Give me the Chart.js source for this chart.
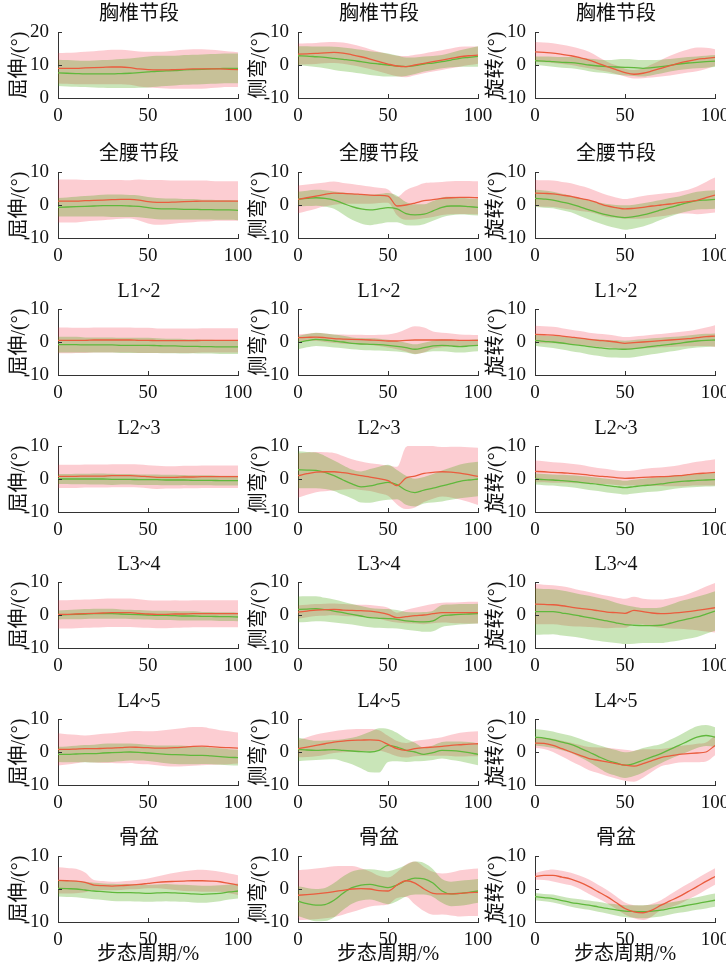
<!DOCTYPE html>
<html>
<head>
<meta charset="utf-8">
<script src="https://cdn.jsdelivr.net/npm/chart.js@4.4.1/dist/chart.umd.min.js"></script>
<style>
  html, body { margin: 0; padding: 0; background: #fff; }
  body { width: 726px; height: 966px; position: relative; overflow: hidden; }
  canvas { position: absolute; }
</style>
</head>
<body>
<script>
// 步态周期 (%) 采样点
const gaitPct = [0, 5, 10, 15, 20, 25, 30, 35, 40, 45, 50, 55, 60, 65, 70, 75, 80, 85, 90, 95, 100];

const rowTitles = ['胸椎节段', '全腰节段', 'L1~2', 'L2~3', 'L3~4', 'L4~5', '骨盆'];
const yLabels = ['屈伸/(°)', '侧弯/(°)', '旋转/(°)'];
const xLabel = '步态周期/%';
const xTicks = [0, 50, 100];
const yTicksThorFe = [0, 10, 20];
const yTicksDefault = [-10, 0, 10];

// --- 胸椎节段 ---
const thorFeRedMean = [9, 9, 9, 9.1, 9.2, 9.3, 9.4, 9.4, 9.2, 8.8, 8.6, 8.5, 8.5, 8.6, 8.7, 8.8, 8.8, 8.8, 8.8, 8.7, 8.6];
const thorFeRedSd = [4.6, 4.7, 4.8, 4.9, 5, 5.1, 5.2, 5.2, 5.2, 5.3, 5.4, 5.5, 5.6, 5.8, 5.9, 6, 6, 5.8, 5.6, 5.4, 5.3];
const thorFeGreenMean = [7.6, 7.5, 7.4, 7.3, 7.3, 7.3, 7.3, 7.4, 7.5, 7.7, 7.9, 8.1, 8.2, 8.3, 8.5, 8.6, 8.7, 8.8, 8.9, 9, 9];
const thorFeGreenSd = [4, 4, 4, 4, 4.1, 4.2, 4.3, 4.4, 4.5, 4.6, 4.7, 4.7, 4.6, 4.5, 4.5, 4.5, 4.5, 4.5, 4.5, 4.5, 4.5];

const thorLbRedMean = [3.3, 3.4, 3.5, 3.7, 3.8, 3.6, 3.1, 2.5, 1.8, 1, 0.3, -0.3, -0.5, 0, 0.5, 1, 1.5, 2, 2.5, 2.8, 3];
const thorLbRedSd = [3.2, 3.2, 3.2, 3.2, 3.2, 3.2, 3.2, 3.1, 3, 3, 3, 3.1, 3.2, 3.1, 3, 3, 3, 3, 3, 2.8, 2.6];
const thorLbGreenMean = [2.8, 2.7, 2.5, 2.3, 2, 1.7, 1.4, 1, 0.6, 0.3, 0, -0.3, -0.5, -0.2, 0.3, 0.6, 1, 1.5, 2, 2.3, 2.6];
const thorLbGreenSd = [2.9, 3, 3.1, 3.3, 3.5, 3.6, 3.6, 3.6, 3.6, 3.6, 3.5, 3.2, 2.8, 2.5, 2.3, 2.1, 2, 2.2, 2.5, 2.8, 3.1];

const thorArRedMean = [4, 3.8, 3.6, 3.2, 2.8, 2.2, 1.5, 0.5, -0.5, -1.4, -2.3, -2.8, -2.5, -1.8, -1, -0.2, 0.6, 1.2, 1.7, 2, 2.3];
const thorArRedSd = [3, 3, 3, 2.9, 2.8, 2.7, 2.5, 2, 1.5, 1.3, 1.2, 1.3, 1.5, 2, 2.5, 3, 3.3, 3.5, 3.6, 3.2, 2.5];
const thorArGreenMean = [1.3, 1.2, 1, 0.8, 0.7, 0.4, 0, -0.3, -0.5, -0.6, -0.7, -0.8, -1, -0.8, -0.5, -0.1, 0.3, 0.6, 0.8, 1, 1.2];
const thorArGreenSd = [1.3, 1.4, 1.5, 1.6, 1.7, 1.8, 1.9, 2, 2, 2.3, 2.5, 2.5, 2.5, 2.3, 2.1, 1.9, 1.8, 1.8, 1.8, 1.8, 1.8];

// --- 全腰节段 ---
const lumbFeRedMean = [1.2, 1.2, 1.2, 1.3, 1.4, 1.5, 1.6, 1.7, 1.7, 1.5, 1, 0.8, 0.8, 0.9, 1, 1.1, 1.2, 1.2, 1.2, 1.2, 1.2];
const lumbFeRedSd = [6.5, 6.5, 6.5, 6.3, 6.2, 6.1, 6, 5.9, 5.8, 6.2, 6.6, 6.8, 6.7, 6.5, 6.4, 6.3, 6.2, 6.1, 6, 6, 6];
const lumbFeGreenMean = [-0.7, -0.6, -0.5, -0.4, -0.3, -0.2, -0.2, -0.2, -0.3, -0.4, -0.8, -1.1, -1.2, -1.2, -1.3, -1.3, -1.4, -1.4, -1.5, -1.5, -1.6];
const lumbFeGreenSd = [2.8, 2.9, 3, 3.1, 3.2, 3.3, 3.4, 3.4, 3.3, 3.3, 3.2, 3.2, 3.2, 3.2, 3.1, 3.1, 3, 3, 3, 3, 3];

const lumbLbRedMean = [1.7, 2.2, 2.7, 3.2, 3.6, 3.5, 3.4, 3.2, 3, 2.9, 2.7, -0.3, 0, 0.6, 1.3, 1.6, 2, 2.2, 2.3, 2.3, 2.2];
const lumbLbRedSd = [4.2, 4, 3.8, 3.6, 3.5, 3.2, 3, 2.8, 2.6, 2.3, 2, 2.8, 4.5, 5, 5.3, 5.2, 5, 5, 5, 5, 5];
const lumbLbGreenMean = [1.8, 2, 2.2, 2, 1.5, 0.5, -0.5, -1.2, -1.5, -1.2, -0.8, -1.2, -2.6, -3, -2.8, -1.8, -0.7, -0.3, -0.3, -0.5, -0.7];
const lumbLbGreenSd = [2.2, 2.3, 2.4, 2.5, 2.6, 3.3, 4, 4.4, 4.6, 4.5, 4.4, 4, 3.5, 3.2, 3, 3, 3, 2.8, 2.6, 2.5, 2.5];

const lumbArRedMean = [3.6, 3.5, 3.4, 3, 2.6, 2, 1.5, 0.6, -0.3, -0.8, -1.2, -1, -0.7, -0.3, 0, 0.3, 0.7, 1, 1.4, 2.2, 3];
const lumbArRedSd = [4, 4, 4, 4, 4, 3.8, 3.6, 3.4, 3.3, 3.1, 3, 3.2, 3.4, 3.4, 3.4, 3.3, 3.3, 3.6, 4.2, 4.8, 5.3];
const lumbArGreenMean = [2, 1.8, 1.5, 0.9, 0.3, -0.6, -1.5, -2.3, -3, -3.5, -3.8, -3.5, -3, -2.3, -1.5, -0.7, 0, 0.7, 1.3, 1.5, 1.7];
const lumbArGreenSd = [2.6, 2.6, 2.5, 2.5, 2.5, 2.7, 2.9, 3.1, 3.3, 3.5, 3.7, 3.6, 3.5, 3.3, 3, 2.8, 2.6, 2.6, 2.7, 2.8, 2.8];

// --- L1~2 ---
const l12FeRedMean = [0.5, 0.5, 0.5, 0.5, 0.6, 0.6, 0.6, 0.6, 0.6, 0.5, 0.5, 0.4, 0.4, 0.4, 0.4, 0.4, 0.5, 0.5, 0.5, 0.5, 0.5];
const l12FeRedSd = [3.9, 3.9, 3.8, 3.8, 3.8, 3.8, 3.8, 3.8, 3.8, 3.8, 3.8, 3.7, 3.7, 3.7, 3.7, 3.7, 3.7, 3.7, 3.7, 3.7, 3.7];
const l12FeGreenMean = [-0.8, -0.8, -0.8, -0.9, -0.9, -0.9, -0.9, -1, -1, -1, -1, -1.1, -1.2, -1.2, -1.3, -1.3, -1.4, -1.4, -1.5, -1.5, -1.5];
const l12FeGreenSd = [2.4, 2.4, 2.4, 2.3, 2.3, 2.3, 2.3, 2.3, 2.3, 2.3, 2.3, 2.2, 2.2, 2.2, 2.2, 2.1, 2.1, 2.1, 2.1, 2.1, 2.1];

const l12LbRedMean = [1.3, 1.4, 1.5, 1.3, 1, 0.9, 0.8, 0.7, 0.6, 0.5, 0.3, 0.3, 0.5, 0.6, 0.6, 0.6, 0.6, 0.6, 0.5, 0.5, 0.5];
const l12LbRedSd = [1, 1.1, 1.2, 1.3, 1.3, 1.4, 1.4, 1.5, 1.5, 1.7, 2, 2.5, 3.4, 4.2, 3.8, 2.6, 2.2, 2, 1.8, 1.7, 1.6];
const l12LbGreenMean = [-0.2, 0.4, 0.8, 0.6, 0.3, 0, -0.4, -0.6, -0.7, -0.8, -1, -1.3, -1.7, -2.2, -1.7, -1.2, -1, -1.2, -1.4, -1.2, -1];
const l12LbGreenSd = [2, 2, 2, 2, 2, 1.9, 1.8, 1.8, 1.8, 1.8, 1.7, 1.6, 1.5, 1.5, 1.5, 1.6, 1.8, 1.8, 1.8, 1.8, 1.8];

const l12ArRedMean = [2.3, 2.2, 2.1, 1.8, 1.5, 1.2, 0.8, 0.5, 0.3, 0, -0.4, -0.2, 0, 0.2, 0.4, 0.6, 0.8, 1, 1.3, 1.6, 1.8];
const l12ArRedSd = [2.6, 2.6, 2.5, 2.4, 2.2, 2.1, 2, 2, 2, 1.9, 1.9, 1.9, 1.9, 2, 2, 2.1, 2.2, 2.3, 2.5, 2.8, 3.3];
const l12ArGreenMean = [0.5, 0.2, 0, -0.3, -0.7, -1, -1.4, -1.7, -2, -2.1, -2.2, -2, -1.7, -1.3, -1, -0.7, -0.4, 0, 0.3, 0.5, 0.6];
const l12ArGreenSd = [1.6, 1.7, 1.8, 2, 2.1, 2.2, 2.4, 2.5, 2.6, 2.6, 2.6, 2.6, 2.5, 2.4, 2.3, 2.2, 2.1, 2, 2, 2, 2];

// --- L2~3 ---
const l23FeRedMean = [0.8, 0.8, 0.8, 0.9, 0.9, 0.9, 1, 1, 1, 0.9, 0.7, 0.5, 0.5, 0.5, 0.6, 0.6, 0.7, 0.7, 0.7, 0.7, 0.7];
const l23FeRedSd = [3.5, 3.5, 3.5, 3.5, 3.5, 3.5, 3.5, 3.5, 3.5, 3.5, 3.5, 3.5, 3.4, 3.4, 3.4, 3.4, 3.4, 3.4, 3.4, 3.4, 3.4];
const l23FeGreenMean = [0, 0, 0, 0, 0, 0, -0.1, -0.1, -0.1, -0.2, -0.2, -0.2, -0.3, -0.3, -0.3, -0.4, -0.4, -0.4, -0.5, -0.5, -0.5];
const l23FeGreenSd = [1.5, 1.5, 1.6, 1.6, 1.7, 1.7, 1.7, 1.6, 1.6, 1.6, 1.6, 1.6, 1.6, 1.6, 1.5, 1.5, 1.5, 1.5, 1.5, 1.5, 1.5];

const l23LbRedMean = [1, 1.6, 2.1, 2.2, 2.2, 1.9, 1.5, 1, 0.6, 0.1, -0.5, -2, 0.3, 0.9, 1.7, 2, 2.2, 2.1, 1.8, 1.3, 0.8];
const l23LbRedSd = [6.7, 6.4, 6.1, 5.9, 5.7, 5.1, 4.5, 4.3, 4.2, 4.4, 4.6, 5.7, 9.4, 9.5, 8.7, 8, 7.5, 7.7, 8, 8.3, 8.7];
const l23LbGreenMean = [2.8, 2.7, 2.6, 2, 1, -0.3, -1.5, -2.4, -2.1, -1.5, -1, -1.7, -3.4, -4.1, -3.4, -2.8, -2.1, -1.4, -0.7, -0.3, 0];
const l23LbGreenSd = [5.6, 5.5, 5.4, 5, 4.6, 4.5, 4.4, 4.7, 5.1, 5.2, 5.3, 4.4, 4.4, 4.2, 4, 4.3, 4.7, 4.9, 5.1, 5.2, 5.2];

const l23ArRedMean = [2.3, 2.2, 2, 1.9, 1.7, 1.5, 1.2, 0.9, 0.7, 0.4, 0.2, 0.3, 0.5, 0.6, 0.7, 0.8, 1, 1.3, 1.6, 1.8, 2];
const l23ArRedSd = [3.3, 3.2, 3.1, 3, 2.9, 2.8, 2.6, 2.4, 2.3, 2.2, 2.2, 2.3, 2.5, 2.7, 2.8, 3, 3.2, 3.4, 3.6, 3.8, 4];
const l23ArGreenMean = [0, -0.2, -0.3, -0.5, -0.7, -1, -1.3, -1.6, -2, -2.3, -2.6, -2.3, -2, -1.8, -1.5, -1.1, -0.8, -0.6, -0.4, -0.3, -0.2];
const l23ArGreenSd = [1.7, 1.7, 1.7, 1.8, 1.8, 1.9, 2, 2, 2.1, 2.1, 2.1, 2.1, 2.1, 2.1, 2.1, 2.1, 2, 2, 2, 2, 2];

// --- L3~4 ---
const l34FeRedMean = [0.2, 0.2, 0.3, 0.4, 0.5, 0.6, 0.7, 0.7, 0.7, 0.5, 0.3, 0.2, 0.2, 0.3, 0.3, 0.4, 0.4, 0.4, 0.4, 0.4, 0.4];
const l34FeRedSd = [4.3, 4.3, 4.3, 4.3, 4.3, 4.3, 4.3, 4.3, 4.3, 4.3, 4.2, 4.2, 4.2, 4.2, 4.1, 4.1, 4.1, 4.1, 4.1, 4.1, 4.1];
const l34FeGreenMean = [0, 0.1, 0.2, 0.3, 0.4, 0.4, 0.4, 0.3, 0.2, 0.1, 0, -0.1, -0.1, -0.2, -0.3, -0.3, -0.4, -0.4, -0.5, -0.5, -0.6];
const l34FeGreenSd = [1.4, 1.4, 1.5, 1.5, 1.5, 1.5, 1.5, 1.4, 1.4, 1.4, 1.4, 1.4, 1.4, 1.4, 1.4, 1.4, 1.3, 1.3, 1.3, 1.3, 1.3];

const l34LbRedMean = [0.9, 1.2, 1.5, 1.6, 1.7, 1.5, 1.4, 1.3, 1.2, 0.8, 0.2, -0.8, -0.5, -0.2, 0, 0.4, 0.7, 0.7, 0.7, 0.7, 0.7];
const l34LbRedSd = [2, 1.9, 1.8, 1.8, 1.8, 1.8, 1.8, 1.8, 1.8, 1.9, 2, 1.5, 2, 2.4, 2.8, 2.9, 3, 3.1, 3.2, 3.3, 3.3];
const l34LbGreenMean = [1.7, 1.8, 1.9, 1.6, 1.2, 0.7, 0.2, -0.3, -0.8, -1, -1.1, -1.3, -1.8, -2, -2.1, -1.8, -0.3, 0, 0.2, 0.3, 0.4];
const l34LbGreenSd = [3.9, 3.9, 3.8, 3.6, 3.5, 3.3, 3.1, 3, 2.9, 2.9, 2.9, 2.8, 2.7, 2.8, 3, 3.1, 3.3, 3.2, 3.1, 3, 3];

const l34ArRedMean = [3.3, 3.2, 3.1, 2.8, 2.4, 2, 1.7, 1.3, 0.9, 0.7, 0.5, 1.4, 1, 0.6, 0.4, 0.5, 0.7, 1, 1.4, 1.8, 2.2];
const l34ArRedSd = [6.1, 6, 5.9, 5.9, 5.8, 5.5, 5.3, 5.1, 4.9, 4.6, 4.4, 4.1, 3.9, 4.1, 4.3, 4.6, 4.9, 5.4, 6, 6.8, 7.5];
const l34ArGreenMean = [1, 1, 1, 0.6, 0.2, -0.3, -0.8, -1.3, -1.8, -2.4, -2.9, -3.1, -3.2, -3.2, -3.1, -2.5, -1.8, -1.2, -0.6, 0.3, 1.2];
const l34ArGreenSd = [7, 6.9, 6.8, 6.8, 6.7, 6.6, 6.6, 6.5, 6.4, 6.1, 5.9, 5.6, 5.3, 5.3, 5.4, 5.6, 5.9, 6, 6.1, 6, 6];

// --- L4~5 ---
const l45FeRedMean = [0.8, 0.8, 0.9, 1, 1, 1.1, 1.2, 1.3, 1.5, 1.4, 1.3, 1.2, 1.2, 1.3, 1.5, 1.7, 1.8, 1.6, 1.4, 1.3, 1.2];
const l45FeRedSd = [4.9, 4.6, 4.3, 4, 4.2, 4.4, 4.5, 4.7, 4.8, 5, 5, 5.2, 5.5, 5.7, 5.8, 5.9, 5.8, 5.5, 5.2, 5, 4.7];
const l45FeGreenMean = [-0.7, -0.7, -0.6, -0.5, -0.5, -0.3, -0.2, -0.1, 0, -0.1, -0.3, -0.5, -0.7, -0.8, -0.9, -1, -1, -1.2, -1.4, -1.6, -1.7];
const l45FeGreenSd = [2.3, 2.4, 2.5, 2.6, 2.7, 2.8, 2.8, 2.7, 2.6, 2.5, 2.4, 2.5, 2.7, 2.8, 2.8, 2.7, 2.6, 2.5, 2.5, 2.4, 2.4];

const l45LbRedMean = [1, 1.5, 2, 2.5, 3, 3.3, 3.5, 3.6, 3.7, 3.5, 2.3, 1, 0.5, 1, 1.3, 1.5, 1.7, 2, 2.2, 2.4, 2.5];
const l45LbRedSd = [2.6, 3, 3.3, 3.3, 3.3, 3.4, 3.4, 3.4, 3.3, 3.1, 2.6, 2.3, 2.2, 2.3, 2.4, 2.6, 2.8, 3.2, 3.6, 3.7, 3.8];
const l45LbGreenMean = [0.8, 0.6, 0.5, 0.6, 0.7, 0.5, 0.3, 0.1, 0, 0.5, 2, 1.5, 0.5, 0, -0.7, -0.2, 0.5, 0.4, 0.2, -0.2, -0.7];
const l45LbGreenSd = [3.6, 3.2, 2.9, 2.9, 2.9, 3.4, 4, 5, 6.1, 6.7, 5, 4.3, 3.5, 2.8, 2, 2.2, 2.5, 2.8, 3, 3.2, 3.3];

const l45ArRedMean = [2.7, 2.6, 2, 1, 0, -1, -2, -2.5, -3, -3.5, -4, -4.3, -3.5, -2.6, -1.7, -1.2, -0.7, -0.5, -0.3, 0, 2];
const l45ArRedSd = [1.5, 1.7, 2, 2.4, 2.8, 3.1, 3.5, 3.9, 4.3, 4.5, 4.7, 4.7, 4.3, 3.4, 2.6, 2.5, 2.5, 2.6, 2.8, 2.9, 3];
const l45ArGreenMean = [4.5, 4.2, 3.7, 3, 2.3, 1.2, 0, -1.3, -2.5, -3.3, -4, -3.5, -2.5, -1.5, -0.5, 0.8, 2, 3.3, 4.5, 5, 4.5];
const l45ArGreenSd = [2.5, 2.5, 2.5, 2.5, 2.6, 2.8, 3, 3.4, 3.8, 3.9, 3.9, 3.8, 3.7, 3.3, 2.9, 2.9, 3, 3.2, 3.3, 3.2, 3];

// --- 骨盆 ---
const pelvFeRedMean = [2.6, 2.5, 2.4, 2, 1.2, 1, 0.9, 1, 1.2, 1.4, 1.7, 2, 2.2, 2.3, 2.4, 2.5, 2.5, 2.4, 2.2, 1.7, 1.2];
const pelvFeRedSd = [4, 3.9, 3.7, 3, 1.5, 1.4, 1.3, 1.3, 1.3, 1.4, 1.5, 1.8, 2.2, 2.6, 3, 3.2, 3.3, 3.2, 3, 3, 3];
const pelvFeGreenMean = [0.2, 0.1, 0, -0.3, -0.6, -0.8, -1, -1.1, -1.1, -1.2, -1.3, -1.2, -1.1, -1.2, -1.3, -1.5, -1.6, -1.5, -1.3, -0.9, -0.6];
const pelvFeGreenSd = [2.5, 2.5, 2.5, 2.5, 2.5, 2.5, 2.6, 2.6, 2.6, 2.6, 2.6, 2.6, 2.6, 2.6, 2.6, 2.6, 2.6, 2.5, 2.4, 2.3, 2.3];

const pelvLbRedMean = [-1.9, -1.7, -1.5, -1.2, -0.8, -0.4, 0, 0.1, 0, -0.5, -0.6, 1.2, 2.5, 1.8, 0, -1.3, -1.5, -1.5, -1.3, -1.1, -1];
const pelvLbRedSd = [7.6, 7.6, 7.7, 7.7, 7.7, 7.4, 7, 6.2, 5.3, 4.5, 4.1, 3.9, 4.9, 6.5, 6.7, 6.5, 6.2, 6.5, 7, 7.1, 7.2];
const pelvLbGreenMean = [-3.7, -4.4, -4.9, -4.7, -3.4, -1.3, 0.4, 1.2, 1.4, 0.9, 0.4, 1.2, 2.5, 3.3, 3.1, 1.8, -0.6, -1.5, -1.3, -1, -0.6];
const pelvLbGreenSd = [4.5, 4.7, 4.9, 5, 5.2, 5.1, 4.9, 4.7, 4.6, 4.8, 5, 4.9, 4.8, 5, 4.8, 4.2, 3.6, 3.7, 3.8, 3.7, 3.6];

const pelvArRedMean = [3.8, 4.1, 4.1, 3.6, 3, 2, 0.7, -0.8, -2.3, -4.1, -5.9, -6.9, -7.2, -6.4, -4.9, -3.6, -2.3, -0.8, 0.7, 2.3, 3.8];
const pelvArRedSd = [1, 1.4, 1.8, 1.9, 1.9, 2, 2.2, 2.1, 2, 1.9, 1.8, 2, 2.2, 1.9, 1.5, 1.9, 2.3, 2.4, 2.5, 2.5, 2.5];
const pelvArGreenMean = [-2.3, -2.6, -2.9, -3.5, -4.1, -4.5, -4.9, -5.4, -5.9, -6.3, -6.7, -6.8, -6.9, -6.7, -6.4, -5.9, -5.4, -4.9, -4.4, -3.9, -3.4];
const pelvArGreenSd = [1.1, 1.1, 1.2, 1.2, 1.3, 1.4, 1.4, 1.5, 1.5, 1.7, 1.8, 1.9, 2, 1.9, 1.9, 1.8, 1.8, 1.9, 1.9, 2, 2];

// 行 x 列: [红均值, 红标准差, 绿均值, 绿标准差]
const panelSeries = [
  [[thorFeRedMean, thorFeRedSd, thorFeGreenMean, thorFeGreenSd],
   [thorLbRedMean, thorLbRedSd, thorLbGreenMean, thorLbGreenSd],
   [thorArRedMean, thorArRedSd, thorArGreenMean, thorArGreenSd]],
  [[lumbFeRedMean, lumbFeRedSd, lumbFeGreenMean, lumbFeGreenSd],
   [lumbLbRedMean, lumbLbRedSd, lumbLbGreenMean, lumbLbGreenSd],
   [lumbArRedMean, lumbArRedSd, lumbArGreenMean, lumbArGreenSd]],
  [[l12FeRedMean, l12FeRedSd, l12FeGreenMean, l12FeGreenSd],
   [l12LbRedMean, l12LbRedSd, l12LbGreenMean, l12LbGreenSd],
   [l12ArRedMean, l12ArRedSd, l12ArGreenMean, l12ArGreenSd]],
  [[l23FeRedMean, l23FeRedSd, l23FeGreenMean, l23FeGreenSd],
   [l23LbRedMean, l23LbRedSd, l23LbGreenMean, l23LbGreenSd],
   [l23ArRedMean, l23ArRedSd, l23ArGreenMean, l23ArGreenSd]],
  [[l34FeRedMean, l34FeRedSd, l34FeGreenMean, l34FeGreenSd],
   [l34LbRedMean, l34LbRedSd, l34LbGreenMean, l34LbGreenSd],
   [l34ArRedMean, l34ArRedSd, l34ArGreenMean, l34ArGreenSd]],
  [[l45FeRedMean, l45FeRedSd, l45FeGreenMean, l45FeGreenSd],
   [l45LbRedMean, l45LbRedSd, l45LbGreenMean, l45LbGreenSd],
   [l45ArRedMean, l45ArRedSd, l45ArGreenMean, l45ArGreenSd]],
  [[pelvFeRedMean, pelvFeRedSd, pelvFeGreenMean, pelvFeGreenSd],
   [pelvLbRedMean, pelvLbRedSd, pelvLbGreenMean, pelvLbGreenSd],
   [pelvArRedMean, pelvArRedSd, pelvArGreenMean, pelvArGreenSd]]
];

// --- 布局 / 样式 ---
const fontFamily = '"Liberation Serif", "Noto Sans CJK SC", serif';
const textColor = '#111';
const axisColor = '#333';
const redLine = 'rgb(234, 92, 62)';
const greenLine = 'rgb(96, 184, 60)';
const redBand = 'rgba(240, 40, 60, 0.23)';
const greenBand = 'rgba(60, 160, 0, 0.28)';

const colAxisX = [58, 298, 535];
const rowTop = [32, 172, 309, 446, 582, 719, 856];
const plotW = 180, plotH = 66;
const axisW = 58, padR = 22, titleH = 34;

const toPts = arr => gaitPct.map((x, i) => ({ x, y: arr[i] }));
const offset = (m, s, k) => m.map((v, i) => v + k * s[i]);

// 内向刻度线
const innerTicks = {
  id: 'innerTicks',
  afterDraw(chart) {
    const { ctx, chartArea: a, scales: { x, y } } = chart;
    ctx.save();
    ctx.strokeStyle = axisColor;
    ctx.lineWidth = 1;
    ctx.beginPath();
    x.ticks.forEach(t => {
      const px = Math.round(x.getPixelForValue(t.value)) + 0.5;
      ctx.moveTo(px, a.bottom);
      ctx.lineTo(px, a.bottom - 4);
    });
    y.ticks.forEach(t => {
      const py = Math.round(y.getPixelForValue(t.value)) + 0.5;
      ctx.moveTo(a.left, py);
      ctx.lineTo(a.left + 4, py);
    });
    ctx.stroke();
    ctx.restore();
  }
};

// 标题略偏左 (与原图一致)
const titleShift = {
  id: 'titleShift',
  afterLayout(chart) {
    const t = chart.titleBlock;
    if (t) {
      t.left = chart.chartArea.left - 18;
      t.right = chart.chartArea.right;
    }
  }
};

function makePanel(r, c) {
  const [rm, rs, gm, gs] = panelSeries[r][c];
  const isLast = r === panelSeries.length - 1;
  const bottomH = isLast ? 45 : 30;
  const yTicks = (r === 0 && c === 0) ? yTicksThorFe : yTicksDefault;

  const canvas = document.createElement('canvas');
  canvas.width = axisW + plotW + padR;
  canvas.height = titleH + plotH + bottomH;
  canvas.style.left = (colAxisX[c] - axisW) + 'px';
  canvas.style.top = (rowTop[r] - titleH) + 'px';
  document.body.appendChild(canvas);

  const line = (arr, color) => ({
    data: toPts(arr), borderColor: color, borderWidth: 1.3,
    pointRadius: 0, fill: false, tension: 0.4, cubicInterpolationMode: 'monotone'
  });
  const edge = (arr, bg, fill) => ({
    data: toPts(arr), borderWidth: 0, borderColor: 'rgba(0,0,0,0)', backgroundColor: bg,
    pointRadius: 0, fill, tension: 0.4, cubicInterpolationMode: 'monotone'
  });

  new Chart(canvas, {
    type: 'line',
    data: {
      datasets: [
        line(rm, redLine),
        line(gm, greenLine),
        edge(offset(gm, gs, 1), greenBand, '+1'),
        edge(offset(gm, gs, -1), greenBand, false),
        edge(offset(rm, rs, 1), redBand, '+1'),
        edge(offset(rm, rs, -1), redBand, false)
      ]
    },
    options: {
      responsive: false,
      animation: false,
      devicePixelRatio: 1,
      layout: { padding: { left: 0, right: padR, top: 0, bottom: 0 } },
      plugins: {
        legend: { display: false },
        tooltip: { enabled: false },
        title: {
          display: true, text: rowTitles[r], color: textColor,
          font: { family: fontFamily, size: 20, weight: 'normal' },
          padding: { top: 5, bottom: 5 }
        }
      },
      scales: {
        x: {
          type: 'linear', min: xTicks[0], max: xTicks[xTicks.length - 1],
          grid: { display: false },
          border: { display: true, color: axisColor, width: 1 },
          afterBuildTicks: s => { s.ticks = xTicks.map(v => ({ value: v })); },
          ticks: { padding: -1, maxRotation: 0, color: textColor, font: { family: fontFamily, size: 19 } },
          title: {
            display: isLast, text: xLabel, color: textColor,
            font: { family: fontFamily, size: 20 }, padding: { top: 0, bottom: 0 }
          },
          afterFit: s => { s.height = bottomH; }
        },
        y: {
          min: yTicks[0], max: yTicks[yTicks.length - 1],
          grid: { display: false },
          border: { display: true, color: axisColor, width: 1 },
          afterBuildTicks: s => { s.ticks = yTicks.map(v => ({ value: v })); },
          ticks: {
            padding: 1, color: textColor, font: { family: fontFamily, size: 19 },
            callback: v => String(v)
          },
          title: {
            display: true, text: yLabels[c], color: textColor,
            font: { family: fontFamily, size: 20 }, padding: { top: 8, bottom: 0 }
          },
          afterFit: s => { s.width = axisW; }
        }
      }
    },
    plugins: [innerTicks, titleShift]
  });
}

for (let r = 0; r < panelSeries.length; r++) {
  for (let c = 0; c < 3; c++) makePanel(r, c);
}
</script>
</body>
</html>
